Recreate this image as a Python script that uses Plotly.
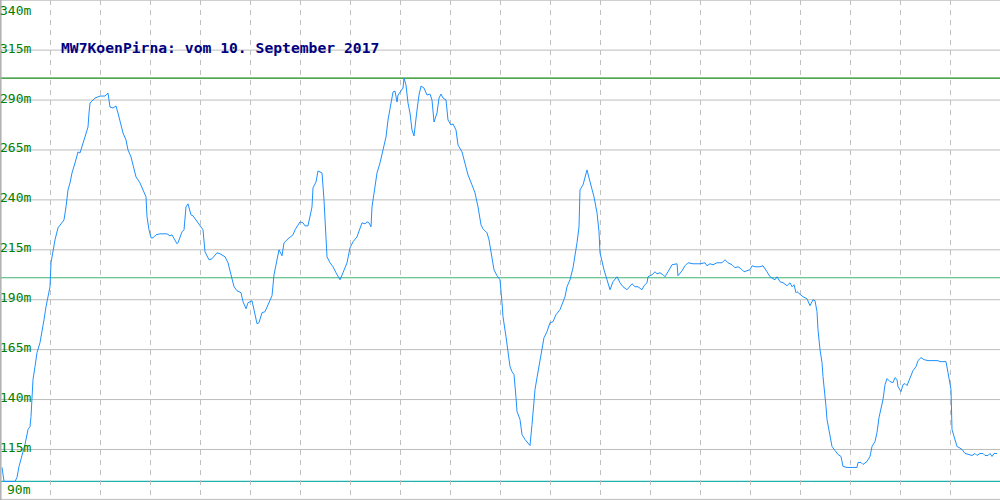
import plotly.graph_objects as go

# Track position (sample index along the recording) and altitude in metres
pos = [2, 4, 15, 17, 19, 22, 25, 28, 30, 31, 32, 33, 35, 37, 40, 42, 44, 46, 48, 50,
       51, 53, 55, 58, 62, 64, 66, 68, 70, 72, 75, 78, 80, 83, 86, 88, 89, 90, 92, 95,
       100, 105, 108, 110, 113, 116, 118, 121, 123, 126, 128, 131, 134, 136, 140, 143, 146, 147, 149, 151,
       153, 156, 160, 167, 170, 172, 177, 178, 182, 184, 186, 188, 191, 193, 197, 200, 203, 205, 209, 212,
       217, 220, 225, 228, 232, 234, 237, 241, 243, 246, 248, 252, 254, 257, 259, 262, 265, 268, 272, 274,
       277, 279, 282, 284, 288, 293, 295, 300, 303, 305, 308, 312, 313, 316, 318, 322, 324, 326, 327, 330,
       333, 336, 340, 343, 347, 350, 353, 357, 362, 365, 367, 369, 371, 372, 374, 377, 380, 383, 386, 388,
       391, 393, 395, 397, 398, 401, 403, 404, 406, 408, 410, 412, 414, 417, 419, 421, 424, 427, 430, 432,
       434, 437, 439, 441, 443, 446, 448, 451, 453, 456, 458, 462, 465, 468, 472, 475, 478, 481, 483, 487,
       489, 492, 494, 497, 500, 502, 503, 506, 508, 510, 512, 514, 516, 517, 520, 522, 525, 527, 530, 532,
       534, 535, 537, 539, 542, 544, 547, 550, 553, 556, 560, 563, 565, 567, 570, 573, 575, 577, 579, 580,
       583, 585, 587, 589, 592, 594, 597, 599, 600, 602, 604, 607, 610, 613, 617, 620, 623, 627, 632, 635,
       638, 642, 644, 647, 648, 652, 655, 657, 660, 663, 665, 668, 672, 677, 678, 682, 685, 688, 693, 700,
       703, 705, 707, 710, 713, 717, 722, 725, 728, 732, 735, 738, 741, 744, 747, 750, 752, 755, 760, 763,
       767, 770, 773, 775, 777, 780, 783, 787, 790, 792, 794, 796, 797, 800, 803, 807, 810, 813, 815, 817,
       818, 820, 822, 823, 825, 826, 827, 829, 831, 832, 835, 838, 841, 843, 847, 857, 858, 861, 863, 867,
       870, 872, 875, 877, 879, 881, 883, 885, 887, 890, 893, 895, 897, 898, 901, 903, 905, 907, 910, 913,
       916, 918, 921, 924, 928, 938, 940, 946, 948, 951, 952, 954, 957, 959, 962, 965, 970, 972, 975, 977,
       980, 983, 985, 988, 990, 992, 994, 997]
alt = [106, 99, 99, 101, 106.5, 111.5, 117.5, 125, 126.5, 131.5, 140, 150, 156.5, 163.5, 168.5, 173.5, 180, 186.5, 191.5, 196.5,
       208.5, 215, 220, 226, 228.5, 230, 236.5, 245, 248.5, 253.5, 258.5, 264, 263.5, 268.5, 273.5, 276.5, 283.5, 288.5, 289.5, 291,
       292, 292, 293.5, 286.5, 286, 287, 283.5, 276.5, 273.5, 270, 265, 261.5, 255, 251.5, 248.5, 245, 241.5, 231.5, 225, 221,
       221, 222.5, 223, 223, 222, 222.5, 218, 218.5, 224, 225, 236.5, 238, 232.5, 232, 229, 227, 225, 214, 210, 210.5,
       213.5, 213, 211.5, 208.5, 201, 196.5, 194.5, 193.5, 189, 185.5, 188.5, 189.5, 185, 178, 178.5, 183.5, 184, 187.5, 192, 202.5,
       210, 215, 212, 218.5, 220.5, 222.5, 225, 229, 228.5, 227, 227, 236.5, 246, 249, 254.5, 253.5, 240, 220, 211.5, 208.5,
       206.5, 203.5, 200, 203.5, 208.5, 216, 219, 221.5, 228.5, 228, 229, 228.5, 226.5, 236.5, 243.5, 253.5, 258.5, 265, 271.5, 280,
       288.5, 294, 294.5, 289, 292.5, 295, 296, 301, 297.5, 288.5, 283.5, 275, 272, 285, 292.5, 297, 296, 292.5, 293, 290,
       279, 283.5, 291, 293, 291, 290, 280, 277.5, 278, 275, 267.5, 264, 258.5, 252.5, 247.5, 243.5, 236.5, 227.5, 225.5, 223.5,
       220, 211.5, 205, 202, 200, 188.5, 181.5, 171.5, 165, 156.5, 154, 152.5, 141, 134, 130, 122.5, 120, 119, 117, 127.5,
       138.5, 145, 151, 156.5, 165, 171, 174, 178.5, 179, 182.5, 185, 189, 191.5, 196.5, 200, 206, 211.5, 218.5, 226.5, 245,
       247.5, 251.5, 255, 251, 246, 241.5, 233.5, 224, 213.5, 209, 205, 200, 195, 199, 201.5, 198.5, 196.5, 195, 198, 196.5,
       196.5, 195, 197, 198.5, 201.5, 202.5, 204, 203, 203.5, 202.5, 201.5, 204, 207.5, 208, 202, 204.5, 207, 208.5, 208, 208,
       208.5, 208.5, 207, 208, 207.5, 208.5, 208.5, 210, 208.5, 207.5, 206, 206.5, 205.5, 204, 204.5, 205, 207, 206.5, 206.5, 207,
       204, 201.5, 200.5, 200, 201.5, 199, 198.5, 197, 198.5, 196.5, 197.5, 193.5, 194, 192.5, 191.5, 190.5, 187, 190, 189.5, 184,
       175, 165, 158.5, 151.5, 143.5, 136.5, 130, 125, 120, 116.5, 114.5, 112.5, 111.5, 106.5, 106, 106, 108.5, 108.5, 107.5, 109,
       111.5, 116.5, 119, 123.5, 131, 135, 140, 147.5, 150.5, 149, 148.5, 151, 150, 146.5, 144, 147.5, 148, 147, 150.5, 154.5,
       156.5, 159.5, 161, 160, 159.5, 159.5, 159, 159, 153.5, 145, 125, 121, 116.5, 116, 115, 113, 112.5, 112, 113, 112,
       113, 113, 112, 112, 113, 111.5, 113, 113]

# Axis ticks (metres)
y_ticks = [90, 115, 140, 165, 190, 215, 240, 265, 290, 315, 340]
y_tick_labels = [f"{v}m" for v in y_ticks]

# Reference levels: maximum, mean, minimum altitude
ref_levels = [301, 201, 99]
ref_colors = ["#138a13", "#3cb371", "#20b2aa"]

title_text = "MW7KoenPirna: vom 10. September 2017"

fig = go.Figure()
fig.add_trace(go.Scatter(x=pos, y=alt, mode="lines",
                         line=dict(color="#1e90ff", width=1), hoverinfo="skip",
                         showlegend=False))

Y0, Y1 = 89.7, 340.1
shapes = []
for v in y_ticks:
    shapes.append(dict(type="line", xref="paper", x0=0, x1=1, yref="y", y0=v, y1=v,
                       line=dict(color="#bcbcbc", width=1), layer="below"))
for v, c in zip(ref_levels, ref_colors):
    shapes.append(dict(type="line", xref="paper", x0=0, x1=1, yref="y", y0=v, y1=v,
                       line=dict(color=c, width=1.2), layer="below"))
shapes.append(dict(type="line", xref="paper", x0=0.0008, x1=0.0008, yref="paper", y0=0, y1=1,
                   line=dict(color="#b0b0b0", width=1.5)))

annotations = []
for v, t in zip(y_ticks, y_tick_labels):
    if v == 340:
        ya, ys = "top", -1
    elif v == 90:
        ya, ys = "bottom", 0
    else:
        ya, ys = "middle", 2
    annotations.append(dict(x=0, xref="paper", xanchor="right", xshift=33,
                            y=v, yref="y", yanchor=ya, yshift=ys, text=t,
                            showarrow=False,
                            font=dict(family="DejaVu Sans Mono", size=13, color="#008000")))
annotations.append(dict(x=0.059, xref="paper", xanchor="left", y=0.905, yref="paper",
                        yanchor="middle", text=f"<b>{title_text}</b>", showarrow=False,
                        font=dict(family="DejaVu Sans Mono", size=14.7, color="#000080")))

fig.update_layout(
    width=1000, height=500,
    margin=dict(l=0, r=0, t=0, b=0),
    paper_bgcolor="white", plot_bgcolor="white",
    xaxis=dict(range=[0, 1000], dtick=50, tick0=0, showgrid=True, gridcolor="#c0c0c0",
               griddash="5px,5px", gridwidth=1, showticklabels=False, zeroline=False,
               showline=False, ticks=""),
    yaxis=dict(range=[Y0, Y1], showgrid=False, showticklabels=False, zeroline=False,
               showline=False, ticks=""),
    shapes=shapes, annotations=annotations,
)

fig.write_html("out.html", config={"displayModeBar": False, "staticPlot": True},
               post_script="document.body.style.margin='0';document.body.style.overflow='hidden';")
